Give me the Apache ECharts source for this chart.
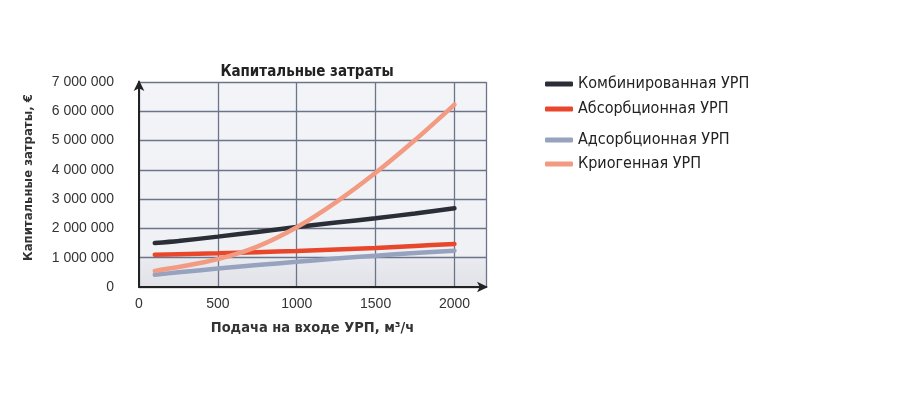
<!DOCTYPE html>
<html><head><meta charset="utf-8">
<script src="https://cdn.jsdelivr.net/npm/echarts@6/dist/echarts.min.js"></script>
<style>html,body{margin:0;padding:0;background:#fff}#c{width:901px;height:400px}</style>
</head><body><div id="c"></div>
<script>
const feed = [100, 250, 500, 750, 1000, 1250, 1500, 1750, 2000];
const combined = [1500000, 1570000, 1720000, 1880000, 2050000, 2200000, 2350000, 2510000, 2690000];
const absorption = [1100000, 1120000, 1150000, 1190000, 1230000, 1280000, 1330000, 1400000, 1470000];
const adsorption = [420000, 500000, 630000, 750000, 860000, 970000, 1070000, 1160000, 1240000];
const cryogenic = [550000, 680000, 950000, 1380000, 2040000, 2900000, 3900000, 5020000, 6230000];
const seriesNames = ['Комбинированная УРП', 'Абсорбционная УРП', 'Адсорбционная УРП', 'Криогенная УРП'];
const seriesColors = ['#2a2e37', '#e8472c', '#97a2bf', '#f39b82'];
const seriesData = [combined, absorption, adsorption, cryogenic];
const legendTops = [76, 101, 132, 156];

const font = 'Liberation Sans, Arial, sans-serif';
const narrow = "'DejaVu Sans Condensed', Arial, sans-serif";
const chart = echarts.init(document.getElementById('c'));
chart.setOption({
  animation: false,
  title: {
    text: 'Капитальные затраты', left: 302, top: 60, textAlign: 'center',
    textStyle: { fontFamily: narrow, fontSize: 15, fontWeight: 'bold', color: '#222' }
  },
  grid: {
    left: 139, right: 415, top: 82, bottom: 113, show: true, borderWidth: 0,
    backgroundColor: new echarts.graphic.LinearGradient(0, 0, 0, 1, [
      { offset: 0, color: '#f3f4f8' }, { offset: 0.84, color: '#eff1f5' },
      { offset: 0.86, color: '#e9ebf0' }, { offset: 1, color: '#e0e2e8' }
    ])
  },
  legend: seriesNames.map((n, i) => ({
    data: [n], left: 545, top: legendTops[i], padding: 0, icon: 'roundRect',
    itemWidth: 28, itemHeight: 5, itemGap: 5,
    textStyle: { fontFamily: narrow, fontSize: 16, color: '#222' }
  })),
  xAxis: {
    type: 'value', min: 0, max: 2200, interval: 500,
    name: 'Подача на входе УРП, м³/ч', nameLocation: 'middle', nameGap: 34,
    nameTextStyle: { fontFamily: narrow, fontSize: 14.5, fontWeight: 'bold', color: '#333' },
    axisLine: { show: true, lineStyle: { color: '#222', width: 2 }, symbol: ['none', 'arrow'], symbolSize: [8, 11], symbolOffset: [0, 2] },
    axisTick: { show: false },
    axisLabel: { fontFamily: font, fontSize: 14, color: '#333', margin: 10,
      formatter: v => v === 2200 ? '' : String(v) },
    splitLine: { show: true, lineStyle: { color: '#6b7488', width: 1.3 } }
  },
  yAxis: {
    type: 'value', min: 0, max: 7000000, interval: 1000000,
    name: 'Капитальные затраты, €', nameLocation: 'middle', nameGap: 104, nameRotate: 90,
    nameTextStyle: { fontFamily: narrow, fontSize: 13, fontWeight: 'bold', color: '#333', padding: [0, 0, 0, 14] },
    axisLine: { show: true, lineStyle: { color: '#222', width: 2 }, symbol: ['none', 'arrow'], symbolSize: [8, 11], symbolOffset: [0, 2] },
    axisTick: { show: false },
    axisLabel: { fontFamily: font, fontSize: 14, color: '#333', margin: 25,
      formatter: v => v === 0 ? '0' : String(v).replace(/\B(?=(\d{3})+(?!\d))/g, ' ') },
    splitLine: { show: true, lineStyle: { color: '#6b7488', width: 1.3 } }
  },
  series: seriesNames.map((n, i) => ({
    name: n, type: 'line', smooth: 0.3, showSymbol: false, symbol: 'none',
    data: feed.map((x, j) => [x, seriesData[i][j]]),
    color: seriesColors[i],
    lineStyle: { width: 4.5, color: seriesColors[i], cap: 'round' }
  }))
});
</script></body></html>
